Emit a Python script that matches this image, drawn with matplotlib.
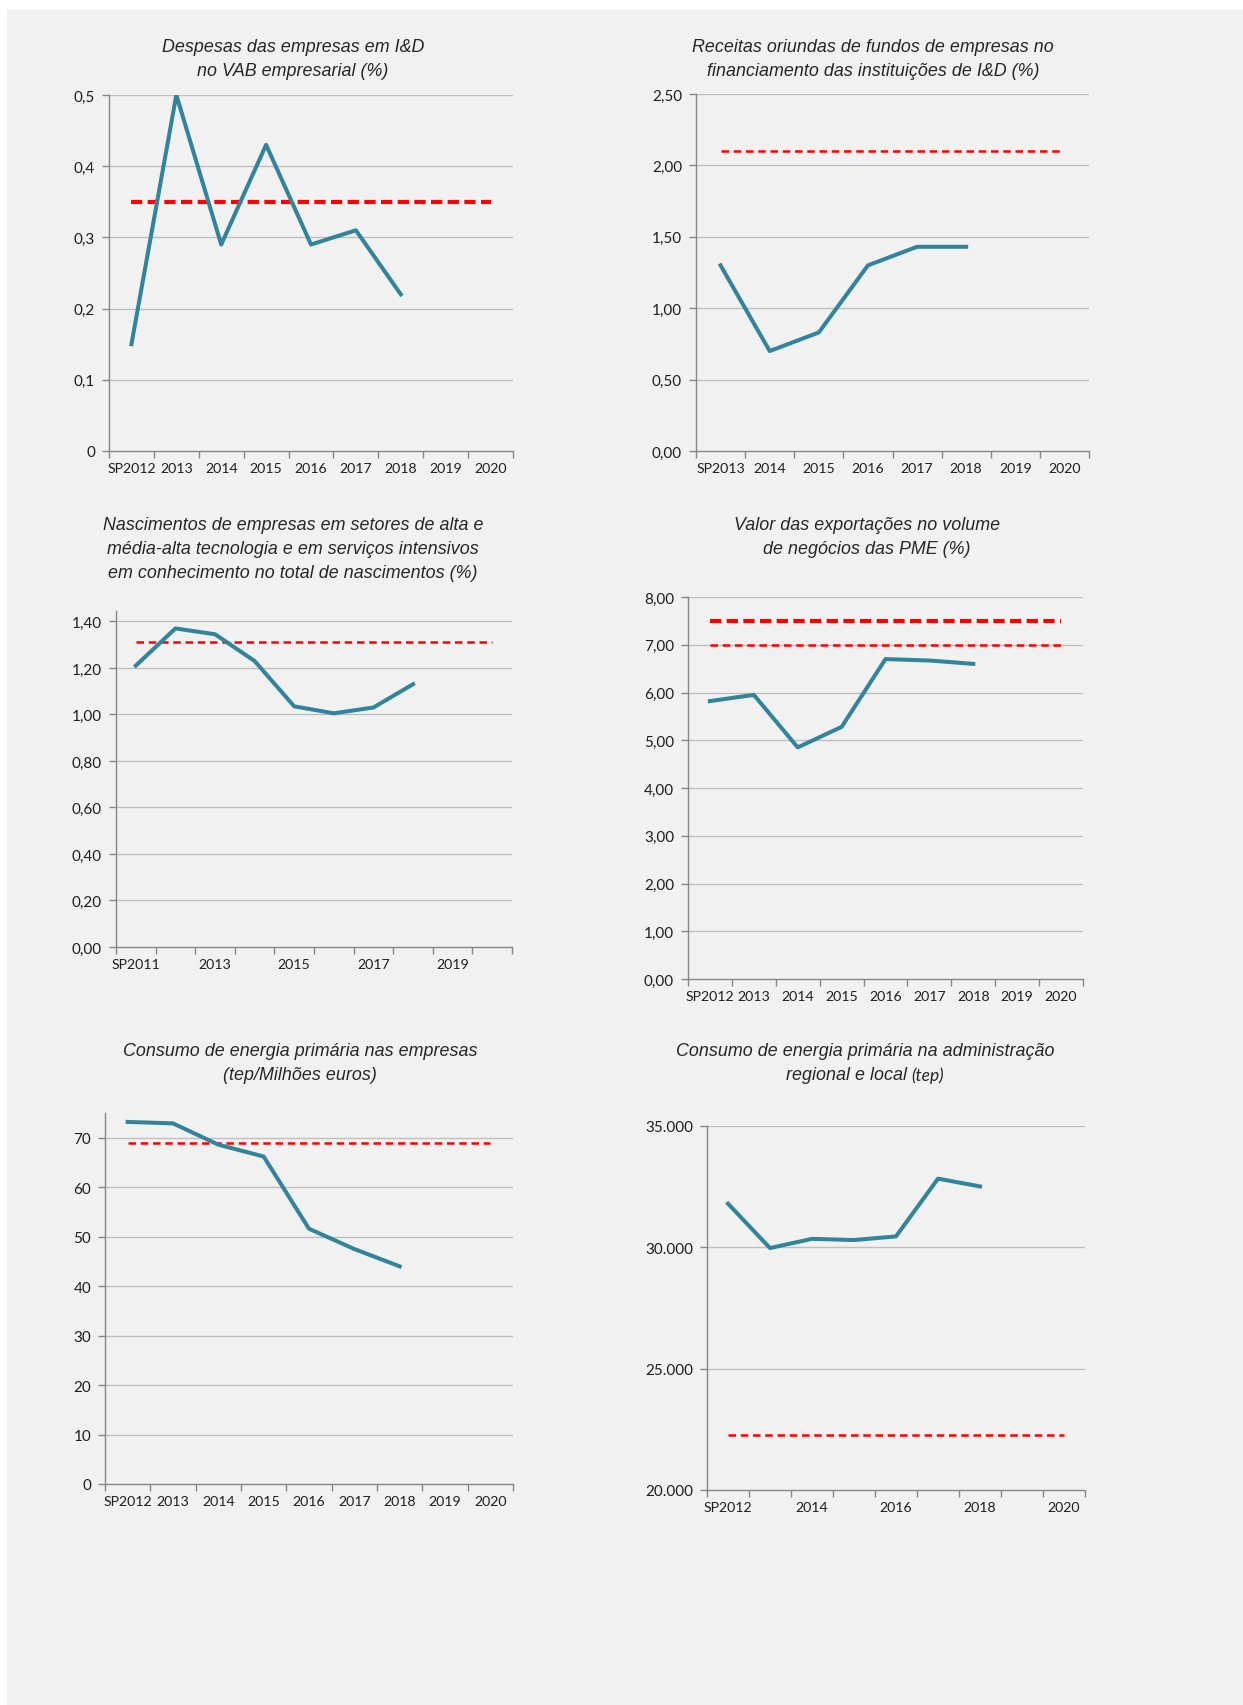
import matplotlib
matplotlib.use('Agg')
import matplotlib.pyplot as plt
from matplotlib.patches import Rectangle
from matplotlib.ticker import FuncFormatter

# ---- data ----
cats_id = ['SP2012', '2013', '2014', '2015', '2016', '2017', '2018', '2019', '2020']
vals_id = [0.15, 0.50, 0.29, 0.43, 0.29, 0.31, 0.22]
meta_id = 0.35

cats_rec = ['SP2013', '2014', '2015', '2016', '2017', '2018', '2019', '2020']
vals_rec = [1.30, 0.70, 0.83, 1.30, 1.43, 1.43]
meta_rec = 2.10

cats_nasc = ['SP2011', '2012', '2013', '2014', '2015', '2016', '2017', '2018', '2019', '2020']
vals_nasc = [1.21, 1.37, 1.345, 1.23, 1.035, 1.005, 1.03, 1.13]
meta_nasc = 1.31

cats_exp = ['SP2012', '2013', '2014', '2015', '2016', '2017', '2018', '2019', '2020']
vals_exp = [5.82, 5.95, 4.85, 5.28, 6.70, 6.67, 6.60]
meta_exp_a = 7.50
meta_exp_b = 7.00

cats_emp = ['SP2012', '2013', '2014', '2015', '2016', '2017', '2018', '2019', '2020']
vals_emp = [73.2, 72.9, 68.6, 66.2, 51.6, 47.5, 44.0]
meta_emp = 69.0

cats_adm = ['SP2012', '2013', '2014', '2015', '2016', '2017', '2018', '2019', '2020']
vals_adm = [31800, 29970, 30350, 30300, 30450, 32830, 32510]
meta_adm = 22250

W, H = 1243, 1706
TEAL = '#31849b'
RED = '#ff0000'
GRID = '#bfbfbf'
AXC = '#868686'
TXT = '#262626'

fig = plt.figure(figsize=(W / 100, H / 100), dpi=100)
fig.patch.set_facecolor('white')
fig.patches.append(Rectangle((7 / W, 0), 1, 1 - 10 / H, transform=fig.transFigure,
                             facecolor='#f1f1f1', edgecolor='none', zorder=-10))


def fmt(dec, thousands=False):
    def f(v, pos):
        if thousands:
            return '{:,.0f}'.format(v).replace(',', '.')
        if dec is None:
            s = ('%g' % round(v, 3))
            return s.replace('.', ',')
        return ('{:.%df}' % dec).format(v).replace('.', ',')
    return FuncFormatter(f)


def panel(box, cats, vals, yticks, ylim, formatter, every=1):
    l, t, r, b = box
    ax = fig.add_axes([l / W, 1 - b / H, (r - l) / W, (b - t) / H])
    ax.set_facecolor('none')
    n = len(cats)
    ax.set_xlim(-0.5, n - 0.5)
    ax.set_ylim(*ylim)
    ax.set_yticks(yticks)
    ax.yaxis.set_major_formatter(formatter)
    ax.set_xticks(range(0, n, every))
    ax.set_xticklabels(cats[::every])
    ax.set_xticks([i - 0.5 for i in range(n + 1)], minor=True)
    ax.tick_params(axis='x', which='major', length=0, pad=8)
    ax.tick_params(axis='x', which='minor', length=5, color=AXC, width=1)
    ax.tick_params(axis='y', length=5, color=AXC, width=1, pad=5)
    for lab in ax.get_xticklabels():
        lab.set_fontfamily('Lato')
        lab.set_fontsize(10.2)
        lab.set_color('#1e1e1e')
    for lab in ax.get_yticklabels():
        lab.set_fontfamily('Lato')
        lab.set_fontsize(11)
        lab.set_color('#1e1e1e')
    for s in ['top', 'right']:
        ax.spines[s].set_visible(False)
    for s in ['left', 'bottom']:
        ax.spines[s].set_color(AXC)
        ax.spines[s].set_linewidth(1)
    for y in yticks:
        if y != ylim[0]:
            ax.axhline(y, color=GRID, lw=1, zorder=0)
    ax.plot(range(len(vals)), vals, color=TEAL, lw=2.9, zorder=3)
    return ax


def meta(ax, n, y, thick):
    if thick:
        ax.plot([0, n - 1], [y, y], color=RED, lw=3.0, ls=(0, (2.7, 1.3)),
                dash_capstyle='butt', zorder=2)
    else:
        ax.plot([0, n - 1], [y, y], color=RED, lw=1.8, ls=(0, (3.0, 1.9)),
                dash_capstyle='butt', zorder=2)


def title(x, ys, lines):
    for y, s in zip(ys, lines):
        fig.text(x / W, 1 - y / H, s, ha='center', va='center', fontsize=12.9,
                 style='italic', family='Liberation Sans', color=TXT)


# 1
ax = panel((109, 96, 513, 452), cats_id, vals_id, [0, 0.1, 0.2, 0.3, 0.4, 0.5], (0, 0.5), fmt(None))
meta(ax, len(cats_id), meta_id, True)
title(293, [48, 72], ['Despesas das empresas em I&D', 'no VAB empresarial (%)'])

# 2
ax = panel((696, 95, 1089, 452), cats_rec, vals_rec, [0, 0.5, 1.0, 1.5, 2.0, 2.5], (0, 2.5), fmt(2))
meta(ax, len(cats_rec), meta_rec, False)
title(873, [48, 72], ['Receitas oriundas de fundos de empresas no',
                      'financiamento das instituições de I&D (%)'])

# 3
ax = panel((116, 612, 512, 948), cats_nasc, vals_nasc, [0, 0.2, 0.4, 0.6, 0.8, 1.0, 1.2, 1.4],
           (0, 1.445), fmt(2), every=2)
meta(ax, len(cats_nasc), meta_nasc, False)
title(293, [526, 550, 574], ['Nascimentos de empresas em setores de alta e',
                             'média-alta tecnologia e em serviços intensivos',
                             'em conhecimento no total de nascimentos (%)'])

# 4
ax = panel((688, 598, 1083, 980), cats_exp, vals_exp, list(range(0, 9)), (0, 8), fmt(2))
meta(ax, len(cats_exp), meta_exp_a, True)
meta(ax, len(cats_exp), meta_exp_b, False)
title(867, [526, 550], ['Valor das exportações no volume', 'de negócios das PME (%)'])

# 5
ax = panel((105, 1114, 513, 1485), cats_emp, vals_emp, list(range(0, 80, 10)), (0, 75), fmt(0))
meta(ax, len(cats_emp), meta_emp, False)
title(300, [1052, 1076], ['Consumo de energia primária nas empresas', '(tep/Milhões euros)'])

# 6
ax = panel((707, 1127, 1085, 1491), cats_adm, vals_adm, [20000, 25000, 30000, 35000],
           (20000, 35000), fmt(0, thousands=True), every=2)
meta(ax, len(cats_adm), meta_adm, False)
title(865, [1052], ['Consumo de energia primária na administração'])
fig.text(907 / W, 1 - 1076 / H, 'regional e local', ha='right', va='center', fontsize=12.9,
         style='italic', family='Liberation Sans', color=TXT)
fig.text(911 / W, 1 - 1076 / H, '(tep)', ha='left', va='center', fontsize=12.5,
         style='italic', family='Lato', color=TXT)

fig.savefig('out.png', dpi=100, facecolor=fig.get_facecolor())
